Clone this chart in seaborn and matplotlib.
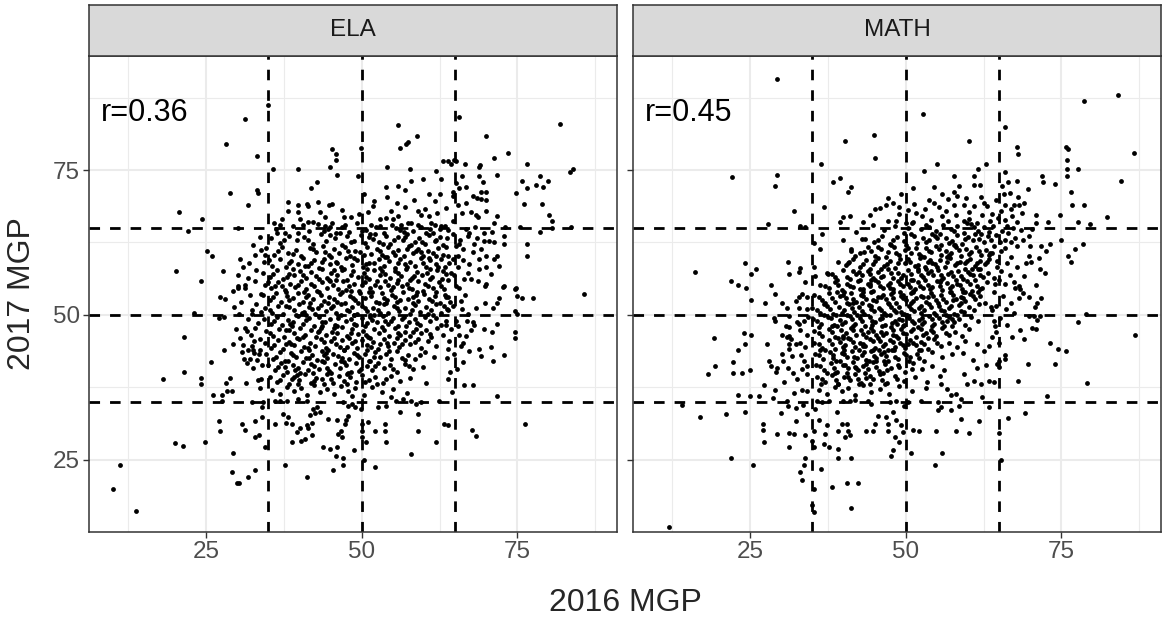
import matplotlib
matplotlib.use("Agg")
import matplotlib.pyplot as plt
import pandas as pd
import seaborn as sns

subjects = ["ELA", "MATH"]
r_labels = ["r=0.36", "r=0.45"]
cut_points = [35, 50, 65]
major_ticks = [25, 50, 75]
minor_ticks = [12.5, 37.5, 62.5, 87.5]
x_title = "2016 MGP"
y_title = "2017 MGP"

# ---------------- ELA (2016 MGP, 2017 MGP) ----------------
ela_left = [(34.9,86.3),(31.2,83.9),(28.2,79.5),(33.2,77.4),(28.9,71.1),(33.2,71.6),(33.4,71.0),(31.8,68.9),(20.7,67.8),(24.4,66.5),(22.1,64.5),(30.2,65.0),(25.2,61.1),(26.0,60.1),(20.2,57.5),(24.2,55.9),(27.8,57.5),(30.2,56.8),(31.0,58.3),(31.9,59.0),(32.8,60.4),(33.9,61.2),(34.5,60.3),(30.2,54.7),(31.2,54.7),(27.2,53.1),(28.0,52.7),(29.4,54.1),(30.2,55.0),(31.2,55.1),(33.9,53.6),(23.0,50.3),(27.0,49.5),(27.9,49.7),(30.3,50.1),(32.4,50.8),(32.4,50.1),(21.4,46.2),(31.2,47.8),(32.9,47.8),(31.6,47.2),(30.5,46.0),(32.7,45.5),(33.6,45.8),(27.9,44.0),(29.3,45.0),(30.8,43.6),(31.7,44.0),(32.6,43.9),(33.7,44.0),(32.7,43.4),(33.5,43.2),(31.1,42.4),(32.0,42.3),(33.2,42.2),(31.5,41.6),(34.0,41.4),(25.8,41.9),(21.4,40.1),(18.1,38.9),(24.2,39.1),(24.2,38.1),(28.9,39.1),(28.2,38.2),(28.4,36.9),(29.2,36.9),(27.6,36.2),(26.1,36.1),(27.5,35.1),(33.3,38.7),(33.9,39.0),(32.3,34.9),(34.2,35.0),(34.0,34.0),(27.0,31.6),(27.2,30.0),(30.8,31.1),(31.2,30.1),(32.8,31.6),(34.0,32.4),(33.5,29.2),(32.8,28.9),(34.5,27.2),(20.0,27.9),(21.3,27.4),(24.8,28.1),(29.3,26.1),(11.2,24.0),(29.1,22.9),(30.0,20.9),(30.3,21.0),(31.7,22.0),(32.8,23.2),(10.1,19.9),(13.7,16.1),
(30.6,52.3),(31.8,49.3),(32.9,55.8),(33.1,51.9),(32.2,46.6),(33.4,48.6),(30.9,44.8),(32.5,40.9),(33.6,37.3),(31.4,38.2),(29.8,47.5),(33.0,57.7),(32.1,53.4),(30.5,59.6),(33.6,63.4),(32.6,62.0),(31.7,56.4),(29.5,51.4),(33.8,50.5),(32.3,44.7)]

ela_low = [(36.0,31.2),(37.9,31.4),(38.2,32.3),(37.4,32.9),(38.8,31.2),(40.1,30.4),(41.2,31.0),(42.0,31.3),(41.7,32.7),(42.5,33.0),(43.3,33.3),(41.4,30.4),(39.6,29.8),(40.3,28.3),(38.8,28.0),(40.9,28.6),(42.0,29.2),(37.7,24.1),(41.2,22.0),(43.8,27.2),(44.9,26.9),(46.0,27.2),(45.9,25.7),(47.0,25.3),(47.0,24.0),(45.4,23.2),(48.8,26.7),(50.4,25.0),(52.1,23.8),(44.6,32.0),(46.0,31.8),(46.2,29.5),(46.7,30.0),(46.8,28.9),(47.3,31.2),(47.5,31.8),(47.8,32.6),(50.0,31.2),(50.0,30.0),(50.0,28.9),(51.0,31.5),(50.7,28.0),(52.1,30.0),(53.7,31.2),(53.7,30.0),(53.9,28.0),(56.1,33.2),(57.9,26.0),(59.0,32.9),(59.0,30.0),(61.9,28.0),(63.2,31.2),(36.1,35.2),(36.9,35.1),(38.0,35.2),(39.8,35.5),(41.2,35.2),(42.2,33.8),(42.8,34.0),(47.0,34.9),(47.8,34.3),(48.4,34.6),(48.9,34.0),(49.9,33.8),(52.6,34.0),(53.9,34.3),(54.7,35.8),(55.5,35.2),(56.6,35.5),(57.9,35.2),(58.7,34.6),(59.5,34.9),(62.4,35.2)]

ela_top = [(55.9,82.8),(58.9,80.9),(56.2,78.8),(57.1,79.5),(57.4,79.9),(45.2,78.6),(45.8,77.7),(45.8,76.8),(44.9,75.6),(46.0,74.1),(49.9,78.8),(49.4,74.0),(35.7,75.2),(39.8,75.1),(54.0,75.6),(57.8,75.2),(61.9,74.9),(63.0,76.5),(42.8,72.9),(41.8,71.9),(53.9,72.0),(55.9,72.2),(56.9,71.6),(57.9,73.2),(59.9,73.5),(62.8,73.5),(60.8,70.9),(62.6,70.8),(61.8,69.7),(38.1,69.5),(38.1,67.9),(39.8,68.9),(41.2,69.1),(41.4,68.8),(43.0,69.5),(44.7,68.9),(45.2,69.1),(46.9,68.1),(48.2,66.9),(44.1,66.9),(39.8,67.7),(40.1,66.5),(41.3,66.0),(42.1,66.0),(44.1,65.4),(44.9,65.2),(45.9,64.2),(46.5,64.1),(35.9,65.8),(36.9,65.6),(36.4,64.2),(37.7,64.2),(51.0,67.7),(51.8,68.8),(52.9,66.6),(53.9,66.8),(55.0,66.5),(55.8,67.0),(54.7,67.9),(56.3,65.6),(57.9,65.9),(59.1,67.9),(59.5,67.2),(60.8,67.0),(61.1,65.9),(62.7,65.3),(51.5,65.6),
(47.1,66.9),(49.6,67.5),(52.0,69.6),(54.1,70.3),(57.0,68.6),(58.4,69.9),(60.1,68.3),(62.1,67.6),(63.5,68.4),(43.3,67.7),(50.3,70.8),(37.2,66.6),(55.6,69.4)]

ela_right = [(65.7,84.1),(81.8,83.0),(69.9,80.9),(73.5,77.9),(71.2,77.0),(76.5,76.0),(83.4,74.7),(83.9,75.1),(69.0,75.9),(68.8,75.5),(66.6,76.1),(64.3,76.1),(64.8,76.8),(65.1,76.5),(63.8,76.5),(71.7,74.2),(68.8,74.0),(66.1,73.9),(69.4,73.0),(65.2,72.8),(65.6,71.9),(66.7,72.0),(64.7,71.2),(64.7,70.5),(75.7,73.2),(76.5,71.9),(74.8,71.1),(78.0,72.5),(79.1,72.1),(78.7,74.0),(79.9,73.1),(68.5,70.2),(69.1,70.0),(69.9,69.9),(69.1,71.3),(69.9,71.2),(66.7,69.3),(69.9,68.0),(76.0,69.1),(78.9,69.2),(67.5,67.8),(68.3,67.2),(68.7,66.9),(71.7,67.0),(71.2,65.9),(80.0,67.2),(80.6,66.2),(73.0,65.1),(75.5,65.1),(78.7,64.3),(83.6,65.1),(80.6,65.0),(76.5,62.2),(76.5,60.2),(72.8,63.6),(72.8,62.2),(71.2,62.5),(71.7,60.2),(72.0,58.4),(71.2,59.6),(69.9,60.2),(69.1,61.3),(68.8,59.6),(69.6,62.7),(69.6,64.2),(70.9,64.3),(68.0,62.2),(67.0,63.6),(67.2,64.2),(66.2,61.3),(65.6,62.2),(65.1,61.9),(65.4,60.2),(64.6,59.6),(63.8,60.2),(64.0,59.0),(67.0,57.3),(66.4,56.2),(67.5,56.2),(68.6,55.9),(69.9,58.2),(70.7,57.0),(72.8,55.0),(74.7,54.7),(69.9,55.3),(65.1,55.0),(65.6,54.7),(63.8,56.1),(64.3,57.3),(65.4,58.2),(85.7,53.6),(77.5,52.9),(75.8,52.9),(75.0,53.2),(74.6,54.5),(74.6,50.6),(74.9,50.2),(74.6,47.1),(74.6,46.0),(71.7,48.4),(70.9,47.1),(69.6,47.5),(72.8,43.1),(71.1,42.1),(69.2,42.9),(68.8,44.1),(70.8,44.4),(67.9,37.9),(71.7,35.9),(76.2,31.1),(67.7,30.2),(68.3,29.1),(63.8,31.0),(63.8,38.9),(66.2,41.9),(66.2,45.1),(69.8,55.0),(72.7,54.8),(72.0,52.9),(71.8,52.1),(71.1,51.2),(69.8,52.0),(66.6,53.4),(66.1,51.0),(67.8,48.7),(68.1,48.3),(67.5,47.4),(66.8,46.4),(65.6,46.6),(64.0,45.5),(63.8,44.1),(65.9,44.6),(65.1,49.0),(63.6,53.0),(64.2,52.2),(63.9,50.8),(64.6,51.5),(63.5,48.2),(64.4,47.6),(63.7,42.5),(64.1,40.2),
(64.6,63.9),(65.8,63.0),(66.7,64.9),(67.8,60.8),(68.5,63.2),(66.3,59.4),(67.2,58.8),(64.9,56.8),(66.0,52.4),(67.0,50.2),(65.5,48.0),(66.9,48.9),(68.4,51.2),(64.8,43.2),(65.3,40.6),(67.2,43.8),(64.5,36.7),(66.5,37.9),(68.9,58.0),(70.4,62.8),(64.7,66.2),(66.1,67.6),(68.2,65.1),(65.4,68.9),(67.9,70.6)]

ela_core = [(36.2,64.8),(38.9,65.3),(41.5,64.4),(43.0,65.7),(44.6,64.9),(46.8,65.2),(47.9,64.3),(49.2,65.8),(50.7,64.6),(52.3,65.1),(53.6,64.2),(54.8,65.5),(56.1,64.7),(57.4,65.9),(58.3,64.5),(59.6,65.2),(60.4,64.1),(61.8,65.6),(62.5,64.8),(63.4,65.3),(39.7,64.1),(45.3,65.9),(51.4,64.0),(55.5,65.0),(60.9,64.9),
(35.4,63.2),(36.9,62.4),(38.3,63.7),(39.6,62.9),(40.8,63.4),(42.1,62.2),(43.5,63.9),(44.2,62.7),(45.7,63.3),(46.9,62.1),(47.6,63.6),(48.8,62.8),(49.9,63.8),(50.6,62.4),(51.8,63.1),(52.7,62.6),(53.9,63.7),(54.5,62.3),(55.8,63.4),(56.6,62.9),(57.3,63.9),(58.5,62.5),(59.2,63.3),(60.1,62.2),(60.8,63.8),(61.7,62.7),(62.6,63.5),(63.1,62.1),(57.9,62.0),(52.2,63.9),
(34.6,61.5),(35.9,60.3),(37.2,61.8),(38.1,60.7),(39.4,61.2),(40.3,60.1),(41.7,61.6),(42.6,60.8),(43.8,61.9),(44.7,60.4),(45.5,61.3),(46.4,60.6),(47.3,61.7),(48.1,60.2),(48.9,61.1),(49.8,60.9),(50.9,61.8),(51.5,60.5),(52.4,61.4),(53.3,60.3),(54.2,61.7),(55.0,60.8),(55.9,61.2),(56.8,60.1),(57.6,61.9),(58.2,60.6),(59.1,61.4),(59.9,60.2),(60.7,61.1),(61.4,60.7),(62.3,61.6),(63.0,60.4),(44.1,60.9),(53.8,60.0),(58.7,61.0),
(34.3,59.1),(35.6,58.4),(36.8,59.7),(37.9,58.2),(38.7,59.3),(39.8,58.8),(40.6,59.9),(41.4,58.5),(42.3,59.4),(43.2,58.1),(44.0,59.6),(44.9,58.7),(45.8,59.2),(46.6,58.3),(47.5,59.8),(48.4,58.6),(49.3,59.5),(50.2,58.2),(51.1,59.0),(51.9,58.9),(52.8,59.7),(53.5,58.4),(54.4,59.3),(55.3,58.1),(56.2,59.6),(56.9,58.8),(57.8,59.2),(58.6,58.5),(59.5,59.9),(60.3,58.3),(61.0,59.4),(61.9,58.7),(62.7,59.6),(63.3,58.2),(47.1,58.0),(54.0,60.0),(41.9,59.0),(59.9,58.9),
(34.1,57.3),(35.2,56.5),(36.4,57.8),(37.3,56.2),(38.4,57.1),(39.2,56.9),(40.1,57.6),(41.0,56.3),(41.8,57.4),(42.7,56.7),(43.6,57.9),(44.4,56.4),(45.1,57.2),(46.0,56.8),(46.9,57.7),(47.7,56.1),(48.6,57.5),(49.4,56.6),(50.3,57.3),(51.2,56.2),(52.0,57.8),(52.9,56.9),(53.7,57.1),(54.6,56.4),(55.4,57.6),(56.3,56.7),(57.1,57.9),(58.0,56.3),(58.8,57.4),(59.7,56.8),(60.5,57.2),(61.3,56.5),(62.1,57.7),(62.9,56.2),(63.6,57.0),(44.8,56.0),(50.8,58.0),(55.9,56.0),(38.9,57.9),(60.9,57.9),
(34.4,55.2),(35.5,54.6),(36.6,55.7),(37.6,54.3),(38.5,55.4),(39.3,54.8),(40.2,55.9),(41.1,54.5),(41.9,55.3),(42.8,54.1),(43.7,55.6),(44.5,54.7),(45.4,55.1),(46.2,54.4),(47.0,55.8),(47.9,54.9),(48.7,55.4),(49.6,54.2),(50.5,55.7),(51.3,54.6),(52.1,55.2),(53.0,54.8),(53.8,55.9),(54.7,54.3),(55.6,55.5),(56.4,54.9),(57.2,55.3),(58.1,54.5),(59.0,55.8),(59.8,54.2),(60.6,55.0),(61.5,54.7),(62.4,55.6),(63.2,54.4),(45.9,56.0),(51.7,54.0),(57.7,56.0),(40.7,54.0),(54.2,55.1),(48.2,54.1),(36.1,54.9),(62.0,54.0),
(34.2,53.4),(35.3,52.6),(36.3,53.8),(37.1,52.3),(38.0,53.2),(38.9,52.9),(39.7,53.7),(40.5,52.2),(41.3,53.5),(42.2,52.7),(43.1,53.9),(43.9,52.4),(44.8,53.1),(45.6,52.8),(46.5,53.6),(47.3,52.1),(48.1,53.3),(49.0,52.5),(49.8,53.8),(50.6,52.9),(51.5,53.2),(52.3,52.3),(53.2,53.7),(54.0,52.6),(54.9,53.4),(55.7,52.2),(56.6,53.9),(57.4,52.8),(58.3,53.1),(59.1,52.4),(60.0,53.6),(60.8,52.7),(61.7,53.3),(62.6,52.1),(63.4,53.5),(46.9,54.0),(52.8,52.0),(58.8,54.0),(41.7,52.0),(55.3,53.0),(49.4,52.0),(37.8,54.0),
(34.5,51.1),(35.6,50.4),(36.5,51.6),(37.4,50.2),(38.3,51.3),(39.1,50.8),(40.0,51.9),(40.8,50.5),(41.6,51.4),(42.5,50.1),(43.4,51.7),(44.2,50.7),(45.0,51.2),(45.9,50.3),(46.7,51.8),(47.6,50.9),(48.4,51.3),(49.3,50.2),(50.1,51.6),(50.9,50.6),(51.8,51.1),(52.6,50.8),(53.5,51.9),(54.3,50.4),(55.2,51.5),(56.0,50.7),(56.9,51.2),(57.7,50.1),(58.6,51.7),(59.4,50.5),(60.3,51.4),(61.1,50.9),(62.0,51.8),(62.8,50.3),(63.7,51.0),(44.6,52.0),(48.8,50.0),(53.9,52.0),(39.5,50.0),(58.2,52.0),(42.0,51.0),(51.3,50.0),
(34.3,49.3),(35.4,48.5),(36.4,49.7),(37.2,48.2),(38.1,49.1),(39.0,48.8),(39.8,49.8),(40.6,48.4),(41.5,49.4),(42.3,48.1),(43.2,49.6),(44.1,48.7),(44.9,49.2),(45.7,48.3),(46.6,49.9),(47.4,48.9),(48.3,49.3),(49.1,48.2),(50.0,49.5),(50.8,48.6),(51.7,49.1),(52.5,48.8),(53.4,49.8),(54.2,48.4),(55.1,49.4),(55.9,48.1),(56.8,49.7),(57.6,48.7),(58.5,49.2),(59.3,48.3),(60.2,49.6),(61.0,48.9),(61.9,49.4),(62.7,48.2),(63.5,49.0),(46.1,48.0),(52.0,50.0),(57.1,48.0),(41.0,50.0),(54.7,49.0),(43.7,48.0),(48.7,49.9),
(34.6,47.2),(35.7,46.4),(36.7,47.6),(37.5,46.1),(38.4,47.3),(39.2,46.8),(40.1,47.8),(40.9,46.5),(41.8,47.4),(42.6,46.2),(43.5,47.7),(44.3,46.6),(45.2,47.1),(46.0,46.9),(46.9,47.9),(47.7,46.3),(48.5,47.5),(49.4,46.7),(50.2,47.2),(51.0,46.1),(51.9,47.6),(52.7,46.8),(53.6,47.3),(54.4,46.4),(55.3,47.8),(56.1,46.6),(57.0,47.0),(57.8,46.3),(58.7,47.5),(59.5,46.9),(60.4,47.4),(61.2,46.2),(62.1,47.7),(63.0,46.5),(38.8,48.0),(45.6,46.0),(50.6,48.0),(55.7,46.0),(43.0,47.0),(48.0,46.0),
(34.4,45.1),(35.5,44.3),(36.6,45.6),(37.4,44.1),(38.3,45.3),(39.1,44.8),(40.0,45.8),(40.8,44.4),(41.7,45.2),(42.5,44.7),(43.4,45.9),(44.2,44.2),(45.1,45.4),(45.9,44.9),(46.8,45.7),(47.6,44.5),(48.4,45.1),(49.3,44.3),(50.1,45.6),(50.9,44.8),(51.8,45.3),(52.6,44.1),(53.5,45.8),(54.3,44.6),(55.2,45.2),(56.0,44.4),(56.9,45.7),(57.7,44.9),(58.6,45.3),(59.6,44.2),(60.7,45.5),(61.9,44.7),(39.6,46.0),(47.2,44.0),(51.4,46.0),(44.6,44.0),(37.9,44.9),(53.0,45.0),
(34.7,43.2),(35.8,42.4),(36.8,43.6),(37.7,42.1),(38.6,43.4),(39.4,42.8),(40.3,43.8),(41.1,42.5),(42.0,43.1),(42.8,42.2),(43.7,43.7),(44.5,42.6),(45.4,43.3),(46.2,42.9),(47.1,43.9),(47.9,42.3),(48.8,43.4),(49.6,42.7),(50.5,43.2),(51.3,42.1),(52.2,43.6),(53.0,42.8),(53.9,43.3),(54.7,42.4),(55.6,43.8),(56.5,42.6),(57.5,43.1),(58.6,42.3),(60.1,43.5),(61.6,42.7),(41.5,44.0),(46.6,42.0),(50.9,44.0),(38.2,42.0),(44.0,43.0),
(35.0,41.3),(36.1,40.5),(37.1,41.7),(38.0,40.2),(38.9,41.4),(39.7,40.9),(40.6,41.8),(41.4,40.4),(42.3,41.2),(43.1,40.7),(44.0,41.9),(44.8,40.3),(45.7,41.5),(46.5,40.8),(47.4,41.3),(48.2,40.1),(49.1,41.6),(49.9,40.6),(50.8,41.1),(51.7,40.4),(52.6,41.7),(53.6,40.9),(54.6,41.3),(55.7,40.2),(56.9,41.5),(58.2,40.7),(59.8,41.0),(43.6,42.0),(47.8,40.0),(40.1,40.0),(51.2,42.0),(37.6,41.0),
(35.3,39.2),(36.4,38.4),(37.4,39.6),(38.3,38.1),(39.2,39.3),(40.0,38.7),(40.9,39.8),(41.8,38.3),(42.7,39.1),(43.6,38.9),(44.5,39.7),(45.4,38.2),(46.3,39.4),(47.2,38.6),(48.1,39.2),(49.1,38.4),(50.1,39.6),(51.1,38.8),(52.2,39.3),(53.4,38.2),(54.7,39.5),(56.2,38.6),(57.8,39.1),(60.4,38.3),(42.1,40.0),(47.7,38.0),(38.8,38.9),(45.0,40.0),
(35.6,37.1),(36.9,36.3),(38.0,37.6),(39.1,36.8),(40.2,37.4),(41.2,36.2),(42.3,37.8),(43.3,36.6),(44.4,37.2),(45.5,36.4),(46.6,37.7),(47.8,36.9),(49.0,37.3),(50.3,36.1),(51.7,37.5),(53.2,36.7),(55.0,37.2),(57.3,36.5),(43.9,38.0),(48.4,36.0),(39.8,38.0),(52.5,38.0)]

ela_dense = [(40.5,65.5),(44.0,64.5),(47.3,65.6),(50.0,64.4),(53.0,65.4),(56.8,64.3),(59.0,65.6),(61.4,64.2),(63.8,64.7),
(37.5,62.9),(41.3,63.0),(44.9,63.8),(48.3,62.5),(51.1,63.5),(53.4,62.2),(55.2,63.0),(57.0,63.4),(59.7,62.6),(62.0,62.9),(63.7,63.3),
(36.5,61.0),(39.0,60.5),(42.2,61.4),(45.0,60.0),(47.8,61.0),(50.3,60.3),(52.9,61.1),(55.4,60.4),(57.2,61.4),(59.6,60.8),(61.9,60.1),(63.5,61.8),
(35.1,59.5),(38.3,58.9),(40.9,58.4),(43.6,59.1),(46.1,59.0),(48.8,59.9),(50.7,58.7),(53.0,58.1),(55.8,59.0),(57.3,58.3),(60.8,59.9),(62.3,58.2),
(35.8,57.1),(38.0,56.5),(40.6,56.9),(43.1,56.2),(45.6,57.7),(48.2,56.9),(50.7,56.6),(53.3,57.6),(55.9,57.3),(58.4,56.7),(61.0,56.2),(63.1,57.6),
(35.0,55.7),(37.2,54.9),(39.8,55.1),(42.3,54.9),(44.9,55.8),(47.4,54.3),(50.0,55.2),(52.5,55.8),(55.1,54.8),(57.6,54.6),(60.2,55.4),(62.8,54.9),
(35.8,53.1),(38.4,52.5),(41.0,53.0),(43.5,53.4),(46.1,52.3),(48.6,52.9),(51.1,53.9),(53.6,52.9),(56.2,52.6),(58.7,53.5),(61.3,52.4),(63.9,53.0),
(35.2,50.8),(37.9,51.5),(40.4,50.3),(42.9,51.2),(45.4,51.6),(48.0,50.6),(50.5,51.2),(53.0,50.4),(55.6,51.1),(58.1,50.8),(60.7,50.2),(63.2,51.5),
(35.9,49.0),(38.5,48.4),(41.0,49.1),(43.6,48.8),(46.2,49.5),(48.7,48.4),(51.3,49.7),(53.8,48.9),(56.4,49.2),(58.9,48.6),(61.5,49.9),
(35.2,46.9),(37.9,47.3),(40.5,46.2),(43.1,47.2),(45.6,47.7),(48.2,46.8),(50.7,46.5),(53.2,47.9),(55.8,46.9),(58.3,47.1),(60.9,46.7),
(35.9,44.8),(38.7,45.0),(41.3,44.3),(43.9,45.3),(46.5,44.4),(49.0,45.5),(51.5,44.5),(54.0,45.1),(56.5,44.9),(59.1,45.8),
(36.2,42.8),(39.0,43.0),(41.6,42.6),(44.2,43.4),(46.8,42.5),(49.3,43.0),(51.9,42.8),(54.4,43.7),(57.0,42.2),(59.4,43.0),
(36.6,41.0),(39.3,40.4),(41.9,41.5),(44.5,40.8),(47.1,41.8),(49.6,40.3),(52.1,41.2),(55.1,40.7),(57.6,41.2),
(36.9,38.8),(39.6,39.6),(42.3,38.5),(45.0,39.0),(47.6,39.8),(50.6,38.4),(53.9,39.0)]

# ---------------- MATH (2016 MGP, 2017 MGP) ----------------
math_left = [(29.4,90.8),(22.1,73.8),(29.3,74.1),(29.0,72.2),(32.1,68.0),(27.9,65.7),(33.1,65.3),(33.9,65.2),(16.1,57.4),(24.2,59.0),(25.9,58.0),(25.2,57.0),(21.9,55.8),(23.1,55.2),(24.3,54.6),(28.4,55.2),(31.1,59.2),(31.2,57.1),(33.1,58.1),(32.9,57.4),(29.0,53.6),(25.1,52.5),(27.4,52.0),(30.2,52.1),(30.9,51.2),(32.3,52.4),(32.9,53.0),(33.3,53.6),(34.2,53.1),(32.9,51.1),(34.2,51.0),(28.8,49.4),(29.0,49.0),(31.2,49.8),(32.5,48.7),(32.8,48.4),(31.2,47.9),(19.2,46.0),(24.0,46.8),(25.1,46.6),(24.2,45.0),(23.0,44.0),(27.8,45.0),(30.2,46.5),(31.0,46.1),(31.3,46.4),(31.5,45.8),(31.3,45.0),(31.3,44.1),(33.1,45.1),(34.2,46.5),(22.2,41.9),(19.4,41.1),(18.3,39.8),(22.2,40.0),(23.7,40.0),(25.0,40.4),(28.0,42.1),(28.3,41.2),(29.4,40.9),(29.1,40.1),(30.3,42.0),(31.1,40.9),(31.9,40.0),(31.7,42.9),(33.2,43.1),(33.6,42.1),(33.4,40.6),(34.2,41.2),(34.2,39.8),(27.2,37.8),(30.4,38.4),(29.0,37.1),(32.1,36.5),(33.4,37.1),(34.2,36.8),(23.1,36.1),(25.0,35.9),(26.4,36.0),(28.7,35.7),(14.1,34.5),(31.0,35.1),(31.1,34.3),(32.3,33.9),(34.2,32.9),(29.9,33.0),(24.2,33.3),(21.1,32.8),(17.0,32.4),(32.3,31.6),(27.1,31.2),(27.0,30.1),(29.4,29.5),(31.2,29.6),(32.1,29.4),(33.9,29.2),(27.2,28.1),(31.3,27.2),(22.0,25.2),(25.4,24.1),(33.9,25.2),(33.6,24.0),(33.1,22.9),(33.4,21.5),(12.0,13.3),
(33.0,47.3),(33.8,44.4),(32.6,39.0),(33.6,48.9),(32.4,44.9),(33.9,55.7),(34.3,49.6),(30.2,43.3),(33.5,34.4),(30.8,48.0)]

math_low = [(35.5,33.8),(36.0,31.8),(35.2,30.0),(34.9,28.3),(35.2,27.2),(36.8,27.7),(37.6,27.2),(39.2,26.9),(37.1,29.5),(37.3,30.9),(38.9,33.2),(39.7,31.2),(39.2,30.0),(40.5,31.2),(40.8,30.0),(40.3,28.9),(41.1,29.2),(43.7,30.0),(44.8,30.0),(45.1,31.2),(45.6,32.6),(46.9,32.3),(48.0,33.2),(47.2,31.2),(48.5,31.8),(47.2,30.0),(48.2,28.9),(49.3,30.9),(49.6,29.7),(49.0,28.0),(48.0,26.6),(47.7,25.7),(50.9,26.2),(51.2,30.2),(52.2,30.0),(54.9,30.0),(55.9,26.2),(55.2,33.5),(55.7,34.1),(57.3,33.5),(58.6,34.3),(58.9,32.0),(58.1,30.0),(60.2,29.6),(61.8,31.6),(62.3,35.8),(39.2,25.2),(41.2,25.3),(36.4,23.4),(38.2,20.2),(40.5,20.9),(42.3,21.0),(41.2,16.7),(35.2,20.0),(34.9,17.1),(35.2,16.0),(54.7,24.0),(35.7,35.2),(36.5,34.9),(37.6,35.2),(40.0,35.1),(41.1,35.2),(41.9,35.3),(44.0,35.2),(44.5,34.6),(47.4,34.9),(48.5,35.2),(49.8,34.3),(50.4,34.9),(52.5,35.1),(55.2,34.9),(57.3,36.1),(58.9,35.5),(55.7,38.1),(56.7,37.2),(58.1,36.4),(59.9,38.1),(61.0,38.6),(62.1,38.1),(59.4,39.8),(61.5,40.9),(60.8,42.2),(62.6,43.8),(61.4,44.9),(62.9,41.3),(59.2,43.4)]

math_top = [(52.8,84.7),(40.3,80.1),(44.9,81.0),(45.0,77.0),(60.2,80.1),(36.4,76.1),(52.9,74.8),(55.0,76.0),(57.7,74.0),(61.0,73.9),(61.6,75.2),(62.9,76.0),(38.3,72.9),(39.5,73.6),(41.2,72.1),(40.8,71.2),(36.9,68.6),(47.1,70.1),(49.2,70.9),(51.2,71.9),(47.9,69.3),(46.9,68.9),(45.1,68.3),(45.9,68.5),(44.3,67.2),(43.2,66.1),(47.2,66.2),(41.1,67.0),(40.0,66.9),(39.5,66.1),(39.9,62.9),(54.5,72.0),(54.6,69.3),(55.9,70.8),(56.8,70.0),(57.7,69.0),(58.6,72.2),(57.8,71.2),(59.4,69.0),(59.7,70.2),(61.0,72.5),(61.9,72.5),(62.1,70.3),(61.0,68.8),(53.1,68.2),(51.4,69.2),(50.3,68.1),(51.7,67.6),(55.9,67.0),(56.8,66.2),(60.2,67.7),(59.4,66.2),(61.5,65.9),(63.1,68.8),(48.9,67.4),(50.0,65.9),(51.2,66.1),(36.5,64.0),(35.2,62.4),(36.3,61.3),(42.0,64.3),(42.9,63.1),(41.2,61.0),(41.9,60.2),(40.8,59.0),(35.2,58.2),(35.5,56.7),(37.5,57.0),(38.9,56.1),
(48.5,66.2),(52.6,67.0),(54.1,66.4),(56.4,67.9),(58.0,67.3),(60.1,66.6),(62.2,67.3),(63.5,66.2),(53.8,69.8),(58.2,70.6),(62.6,69.3),(49.0,68.7),(44.7,65.6),(55.3,68.6)]

math_right = [(84.1,87.9),(78.7,87.0),(86.6,78.0),(66.0,82.4),(67.8,78.9),(68.1,77.8),(75.7,78.9),(76.0,78.6),(75.9,76.8),(75.9,75.1),(75.9,73.9),(77.6,75.1),(84.6,73.1),(71.9,73.9),(72.1,72.9),(74.0,72.6),(76.6,71.2),(76.7,68.9),(78.7,69.0),(74.8,67.2),(77.6,66.0),(79.6,65.7),(82.4,66.9),(74.9,63.0),(76.0,60.1),(76.6,59.1),(77.2,61.3),(78.4,62.2),(72.9,66.1),(73.1,62.2),(72.6,61.1),(71.7,61.9),(70.0,61.9),(69.8,60.2),(71.4,59.9),(71.6,57.9),(72.4,57.3),(71.0,55.1),(70.3,64.9),(71.0,67.2),(69.6,71.8),(67.9,73.2),(66.5,72.9),(66.0,74.7),(65.5,72.2),(65.8,70.8),(64.5,69.9),(65.3,67.9),(66.0,69.0),(66.9,68.2),(67.4,68.9),(68.2,69.0),(69.0,69.3),(68.7,67.6),(67.9,66.0),(67.1,67.0),(66.3,65.3),(65.5,64.5),(66.9,62.5),(66.0,63.0),(67.6,63.3),(66.0,61.6),(66.9,60.0),(65.3,61.0),(64.7,59.3),(65.3,57.6),(65.0,56.1),(66.0,55.3),(67.4,55.6),(68.2,55.0),(69.0,56.7),(64.2,61.9),(63.7,63.0),(63.9,60.7),(86.9,46.6),(79.0,50.1),(77.6,48.8),(75.7,43.8),(74.4,44.1),(73.2,45.1),(74.0,41.5),(69.6,41.5),(79.1,38.2),(68.0,38.6),(72.7,35.9),(69.1,33.1),(66.4,32.2),(65.0,29.6),(65.3,24.9),(63.4,34.1),(66.1,51.0),(67.1,46.1),(69.0,45.9),(65.9,43.1),(65.9,42.4),(65.0,42.1),(65.0,41.0),(64.7,41.5),(64.2,38.4),(63.4,38.6),(65.0,45.2),(64.3,48.1),(64.2,49.0),(63.9,46.1),(63.4,44.7),(70.3,47.8),(71.0,47.5),(71.1,49.1),(69.8,49.8),(70.6,49.8),(71.6,49.8),(70.8,51.3),(71.1,52.1),(71.8,52.9),(69.8,53.0),(68.2,52.9),(68.9,53.7),(67.6,54.6),(68.3,54.4),(64.2,54.0),(63.7,51.3),(64.5,51.6),(63.9,50.8),
(64.0,65.3),(64.8,66.8),(65.9,66.3),(66.4,64.2),(67.3,65.0),(68.5,64.6),(64.5,63.8),(65.2,62.5),(67.9,61.9),(68.8,62.9),(64.6,58.3),(66.2,58.9),(67.8,58.2),(69.3,58.9),(70.2,59.2),(64.1,56.4),(66.8,56.9),(64.4,55.3),(65.6,53.2),(66.9,52.1),(67.4,50.3),(65.1,49.4),(66.3,48.3),(64.5,47.0),(68.3,47.3),(69.8,63.6),(70.9,65.8),(63.8,67.5),(68.1,70.4),(66.7,71.0)]

math_core = [(46.5,64.6),(48.2,65.4),(49.7,64.2),(51.0,65.8),(52.4,64.9),(53.7,65.1),(54.9,64.4),(56.0,65.6),(57.2,64.8),(58.3,65.3),(59.4,64.1),(60.5,65.7),(61.6,64.5),(62.6,65.2),(55.5,64.0),(50.3,65.0),(59.9,65.9),(63.3,64.3),
(43.4,63.1),(44.9,62.5),(46.2,63.7),(47.4,62.2),(48.6,63.4),(49.7,62.8),(50.8,63.9),(51.8,62.4),(52.8,63.3),(53.8,62.9),(54.7,63.6),(55.6,62.1),(56.5,63.2),(57.4,62.7),(58.3,63.8),(59.1,62.3),(60.0,63.5),(60.8,62.9),(61.7,63.1),(62.5,62.5),(63.2,63.6),(57.9,62.0),(54.2,64.0),(50.1,62.0),(61.2,64.0),
(41.2,61.3),(42.6,60.6),(43.9,61.7),(45.0,60.2),(46.1,61.4),(47.1,60.9),(48.1,61.8),(49.0,60.4),(49.9,61.2),(50.8,60.7),(51.6,61.6),(52.5,60.1),(53.3,61.5),(54.1,60.8),(54.9,61.9),(55.7,60.3),(56.5,61.1),(57.3,60.6),(58.1,61.7),(58.9,60.2),(59.7,61.3),(60.5,60.9),(61.3,61.8),(62.1,60.4),(62.9,61.2),(63.6,60.7),(47.6,62.0),(52.9,60.0),(57.7,62.0),(44.4,61.0),
(39.1,59.2),(40.4,58.6),(41.6,59.7),(42.7,58.3),(43.7,59.4),(44.7,58.8),(45.6,59.8),(46.5,58.4),(47.4,59.3),(48.2,58.1),(49.1,59.6),(49.9,58.9),(50.7,59.1),(51.5,58.5),(52.3,59.9),(53.1,58.2),(53.9,59.4),(54.7,58.7),(55.5,59.5),(56.3,58.3),(57.1,59.8),(57.9,58.6),(58.7,59.2),(59.5,58.9),(60.3,59.7),(61.1,58.4),(61.9,59.3),(62.7,58.8),(63.4,59.6),(46.9,60.0),(51.9,58.0),(56.7,60.0),(60.7,58.0),(44.2,58.0),(54.3,58.9),
(37.4,57.3),(38.7,56.5),(39.9,57.8),(41.0,56.2),(42.0,57.1),(43.0,56.8),(43.9,57.6),(44.8,56.4),(45.6,57.4),(46.4,56.7),(47.2,57.9),(48.0,56.3),(48.8,57.2),(49.6,56.9),(50.4,57.7),(51.2,56.1),(52.0,57.5),(52.8,56.6),(53.6,57.3),(54.4,56.8),(55.2,57.8),(56.0,56.4),(56.8,57.1),(57.6,56.7),(58.4,57.6),(59.2,56.2),(60.0,57.4),(60.8,56.9),(61.6,57.9),(62.4,56.5),(63.2,57.2),(46.0,58.0),(50.8,56.0),(55.6,56.0),(59.6,58.0),(41.5,57.5),(53.2,58.0),(44.4,56.0),(58.0,56.0),(62.0,58.0),
(36.3,55.2),(37.6,54.6),(38.7,55.7),(39.7,54.3),(40.6,55.4),(41.5,54.8),(42.3,55.9),(43.1,54.5),(43.9,55.3),(44.7,54.1),(45.5,55.6),(46.3,54.7),(47.1,55.1),(47.9,54.4),(48.7,55.8),(49.5,54.9),(50.3,55.4),(51.1,54.2),(51.9,55.7),(52.7,54.6),(53.5,55.2),(54.3,54.8),(55.1,55.9),(55.9,54.3),(56.7,55.5),(57.5,54.9),(58.3,55.3),(59.1,54.5),(59.9,55.8),(60.7,54.2),(61.5,55.0),(62.3,54.7),(63.1,55.6),(45.1,56.0),(49.1,54.0),(53.1,56.0),(57.1,54.0),(61.1,56.0),(40.1,54.0),(42.7,56.0),(47.5,55.5),(51.5,54.5),(55.5,55.0),(59.5,54.0),(44.3,54.9),
(35.2,53.4),(36.5,52.6),(37.6,53.8),(38.6,52.3),(39.5,53.2),(40.4,52.9),(41.2,53.7),(42.0,52.2),(42.8,53.5),(43.6,52.7),(44.4,53.9),(45.2,52.4),(46.0,53.1),(46.8,52.8),(47.6,53.6),(48.4,52.1),(49.2,53.3),(50.0,52.5),(50.8,53.8),(51.6,52.9),(52.4,53.2),(53.2,52.3),(54.0,53.7),(54.8,52.6),(55.6,53.4),(56.4,52.2),(57.2,53.9),(58.0,52.8),(58.8,53.1),(59.6,52.4),(60.4,53.6),(61.2,52.7),(62.0,53.3),(62.8,52.1),(43.2,54.0),(47.2,52.0),(51.2,54.0),(55.2,52.0),(59.2,54.0),(39.0,54.0),(45.6,53.0),(49.6,52.9),(53.6,53.0),(57.6,52.5),(61.6,54.0),(41.6,52.0),(37.1,52.0),(48.0,54.0),
(35.0,51.1),(36.3,50.4),(37.4,51.6),(38.4,50.2),(39.3,51.3),(40.1,50.8),(40.9,51.9),(41.7,50.5),(42.5,51.4),(43.3,50.1),(44.1,51.7),(44.9,50.7),(45.7,51.2),(46.5,50.3),(47.3,51.8),(48.1,50.9),(48.9,51.3),(49.7,50.2),(50.5,51.6),(51.3,50.6),(52.1,51.1),(52.9,50.8),(53.7,51.9),(54.5,50.4),(55.3,51.5),(56.1,50.7),(56.9,51.2),(57.7,50.1),(58.5,51.7),(59.3,50.5),(60.1,51.4),(60.9,50.9),(61.7,51.8),(42.9,52.0),(46.9,50.0),(50.9,52.0),(54.9,50.0),(58.9,52.0),(38.8,50.0),(44.5,51.0),(48.5,50.5),(52.5,51.5),(56.5,50.0),(40.5,52.0),(36.8,51.8),(50.0,50.0),
(35.1,49.3),(36.4,48.5),(37.5,49.7),(38.5,48.2),(39.4,49.1),(40.2,48.8),(41.0,49.8),(41.8,48.4),(42.6,49.4),(43.4,48.1),(44.2,49.6),(45.0,48.7),(45.8,49.2),(46.6,48.3),(47.4,49.9),(48.2,48.9),(49.0,49.3),(49.8,48.2),(50.6,49.5),(51.4,48.6),(52.2,49.1),(53.0,48.8),(53.8,49.8),(54.6,48.4),(55.4,49.4),(56.2,48.1),(57.0,49.7),(57.8,48.7),(58.6,49.2),(59.5,48.3),(60.5,49.6),(61.6,48.9),(42.2,50.0),(46.2,48.0),(50.2,50.0),(54.2,48.0),(58.2,50.0),(38.9,48.0),(44.6,49.0),(48.6,48.5),(52.6,49.5),(56.6,49.0),(40.6,50.0),(36.9,49.9),
(35.3,47.2),(36.6,46.4),(37.7,47.6),(38.7,46.1),(39.6,47.3),(40.4,46.8),(41.2,47.8),(42.0,46.5),(42.8,47.4),(43.6,46.2),(44.4,47.7),(45.2,46.6),(46.0,47.1),(46.8,46.9),(47.6,47.9),(48.4,46.3),(49.2,47.5),(50.0,46.7),(50.8,47.2),(51.6,46.1),(52.4,47.6),(53.2,46.8),(54.0,47.3),(54.9,46.4),(55.9,47.8),(56.9,46.6),(57.9,47.0),(59.0,46.3),(60.2,47.5),(41.6,48.0),(45.6,46.0),(49.6,48.0),(53.6,46.0),(38.2,48.0),(43.9,47.0),(47.9,46.5),(51.9,47.9),(36.1,47.9),(57.4,48.0),(39.9,46.0),
(35.2,45.1),(36.5,44.3),(37.6,45.6),(38.6,44.1),(39.5,45.3),(40.3,44.8),(41.1,45.8),(41.9,44.4),(42.7,45.2),(43.5,44.7),(44.3,45.9),(45.1,44.2),(45.9,45.4),(46.7,44.9),(47.5,45.7),(48.3,44.5),(49.1,45.1),(49.9,44.3),(50.7,45.6),(51.6,44.8),(52.5,45.3),(53.5,44.1),(54.6,45.8),(55.7,44.6),(56.9,45.2),(58.2,44.4),(59.6,45.5),(40.7,46.0),(44.7,44.0),(48.7,46.0),(52.1,44.0),(37.1,44.0),(43.1,45.0),(47.1,44.0),(39.1,46.0),(50.3,45.0),
(35.4,43.2),(36.7,42.4),(37.8,43.6),(38.8,42.1),(39.7,43.4),(40.5,42.8),(41.3,43.8),(42.1,42.5),(42.9,43.1),(43.7,42.2),(44.5,43.7),(45.3,42.6),(46.1,43.3),(46.9,42.9),(47.8,43.9),(48.7,42.3),(49.7,43.4),(50.7,42.7),(51.8,43.2),(53.0,42.1),(54.3,43.6),(55.8,42.8),(57.4,43.3),(40.1,44.0),(44.1,42.0),(48.1,44.0),(36.2,44.0),(42.5,44.0),(46.5,42.0),(38.3,43.0),(52.4,44.0),(45.7,44.0),
(35.6,41.3),(36.9,40.5),(38.0,41.7),(39.0,40.2),(39.9,41.4),(40.7,40.9),(41.5,41.8),(42.3,40.4),(43.1,41.2),(43.9,40.7),(44.8,41.9),(45.7,40.3),(46.6,41.5),(47.6,40.8),(48.7,41.3),(49.9,40.1),(51.2,41.6),(52.6,40.6),(54.2,41.1),(56.1,40.4),(39.4,42.0),(43.5,40.0),(47.1,42.0),(37.4,40.0),(41.9,41.0),(45.2,42.0),(50.5,42.0),
(35.8,39.2),(37.1,38.4),(38.2,39.6),(39.2,38.1),(40.1,39.3),(41.0,38.7),(41.9,39.8),(42.8,38.3),(43.7,39.1),(44.7,38.9),(45.8,39.7),(47.0,38.2),(48.3,39.4),(49.8,38.6),(51.5,39.2),(53.4,38.4),(55.5,39.5),(40.6,40.0),(44.2,38.0),(38.7,40.0),(46.4,40.0),(36.4,38.0),
(36.0,37.1),(37.4,36.3),(38.6,37.6),(39.7,36.8),(40.8,37.4),(41.9,36.2),(43.1,37.8),(44.4,36.6),(45.8,37.2),(47.3,36.4),(49.0,37.7),(51.0,36.9),(53.3,37.3),(42.5,38.0),(39.2,38.0),(46.6,38.0)]

math_dense = [(53.2,65.5),(57.7,64.4),(61.0,65.1),
(45.6,62.9),(48.0,63.0),(51.3,63.6),(53.3,62.5),(55.1,63.2),(57.0,62.4),(59.6,63.1),(62.1,63.9),
(43.3,60.9),(45.6,61.7),(48.5,60.7),(50.4,61.5),(52.1,60.5),(53.7,61.0),(55.3,61.4),(56.9,60.3),(58.5,61.2),(60.1,60.5),(61.7,61.1),(63.3,60.3),
(40.9,59.1),(43.2,58.7),(45.1,59.3),(47.0,58.8),(48.7,59.0),(50.3,59.6),(51.9,58.6),(53.5,59.1),(55.1,58.2),(56.7,59.1),(58.3,58.9),(59.9,59.3),(61.5,58.9),(63.0,59.2),
(38.1,57.0),(40.5,56.6),(42.5,57.4),(44.3,57.0),(46.0,56.5),(47.6,57.3),(49.2,56.4),(50.8,57.1),(52.4,56.8),(54.0,57.5),(55.6,56.9),(57.2,57.4),(58.8,56.7),(60.4,57.1),(62.0,56.8),
(37.0,55.0),(39.2,55.2),(41.1,55.0),(42.7,54.4),(44.3,55.4),(45.9,54.9),(47.5,54.7),(49.1,55.3),(50.7,54.8),(52.3,55.0),(53.9,54.5),(55.5,55.6),(57.1,54.6),(58.7,55.2),(60.3,55.3),(61.9,54.4),
(36.0,53.1),(38.1,52.9),(40.0,53.5),(41.6,52.8),(43.2,53.2),(44.8,52.6),(46.4,53.5),(48.0,52.9),(49.6,53.4),(51.2,52.4),(52.8,53.0),(54.4,53.3),(56.0,52.8),(57.6,53.4),(59.2,52.9),(60.8,53.2),
(35.7,50.9),(37.9,51.0),(39.7,50.4),(41.3,51.1),(42.9,50.7),(44.5,51.5),(46.1,50.9),(47.7,51.3),(49.3,50.5),(50.9,51.0),(52.5,50.4),(54.1,51.3),(55.7,50.9),(57.3,51.5),(58.9,50.7),
(35.8,48.9),(38.0,49.4),(39.8,48.5),(41.4,49.2),(43.0,48.9),(44.6,48.3),(46.2,49.4),(47.8,48.6),(49.4,49.1),(51.0,48.9),(52.6,48.4),(54.2,49.3),(55.8,48.8),(57.4,49.2),
(36.0,46.9),(38.2,47.0),(40.0,46.4),(41.6,47.3),(43.2,46.7),(44.8,47.2),(46.4,46.5),(48.0,47.4),(49.6,46.9),(51.2,47.5),(52.8,46.5),(54.4,47.0),(56.4,46.9),
(36.0,44.9),(38.1,45.0),(39.9,44.5),(41.5,45.3),(43.1,44.6),(44.7,45.4),(46.3,44.6),(47.9,45.3),(49.5,44.8),(51.1,45.1),(53.0,44.9),(55.1,45.2),
(36.1,43.0),(38.3,42.6),(40.1,43.2),(41.7,42.8),(43.3,43.5),(44.9,42.9),(46.5,43.6),(48.2,42.8),(50.0,43.0),(52.1,42.6),
(36.3,41.1),(38.5,40.8),(40.3,41.3),(42.0,40.8),(43.7,41.5),(45.3,41.0),(47.0,40.5),(48.9,41.0),(51.0,40.7),
(36.6,39.0),(38.8,38.7),(40.7,39.3),(42.4,38.9),(44.2,39.4),(46.2,38.8),(48.6,39.0)]

panels = {
    "ELA": ela_left + ela_low + ela_top + ela_right + ela_core + ela_dense,
    "MATH": math_left + math_low + math_top + math_right + math_core + math_dense,
}

rows = []
for subj in subjects:
    for x, y in panels[subj]:
        rows.append({"subject": subj, "mgp2016": x, "mgp2017": y})
df = pd.DataFrame(rows)

sns.set_theme(style="white")
plt.rcParams["font.family"] = ["Liberation Sans", "DejaVu Sans"]

W, H = 1163, 626
fig = plt.figure(figsize=(W / 100, H / 100), dpi=100)
fig.patch.set_facecolor("white")

panel_px = [(89, 617), (633, 1161)]
top_px, bot_px = 56, 532
strip_top_px = 5
xlim = (6.2, 91.0)
ylim = (50 - (bot_px - 315.7) / 5.81, 94.7)
border = "#333333"

for i, subj in enumerate(subjects):
    x0, x1 = panel_px[i]
    ax = fig.add_axes([x0 / W, 1 - bot_px / H, (x1 - x0) / W, (bot_px - top_px) / H])
    sub = df[df["subject"] == subj]
    sns.scatterplot(data=sub, x="mgp2016", y="mgp2017", ax=ax, s=12,
                    color="black", linewidth=0, legend=False, zorder=3)
    for c in cut_points:
        ax.axvline(c, color="black", lw=2.0, ls=(0, (3.8, 3.6)), zorder=4)
        ax.axhline(c, color="black", lw=2.0, ls=(0, (3.8, 3.6)), zorder=4)
    ax.set_xlim(*xlim)
    ax.set_ylim(*ylim)
    ax.set_xticks(major_ticks)
    ax.set_yticks(major_ticks)
    ax.set_xticks(minor_ticks, minor=True)
    ax.set_yticks(minor_ticks, minor=True)
    ax.set_axisbelow(True)
    ax.grid(which="major", color="#EBEBEB", lw=1.5, zorder=0)
    ax.grid(which="minor", color="#EBEBEB", lw=0.8, zorder=0)
    ax.tick_params(which="minor", length=0)
    ax.tick_params(which="major", length=4, width=1.0, color=border,
                   labelsize=17.5, labelcolor="#4D4D4D", pad=2.5,
                   bottom=True, left=True)
    if i > 0:
        ax.tick_params(labelleft=False)
    for sp in ax.spines.values():
        sp.set_color(border)
        sp.set_linewidth(1.1)
        sp.set_zorder(5)
    ax.set_xlabel("")
    ax.set_ylabel("")
    ax.text(8.1, 84.9, r_labels[i], fontsize=22, ha="left", va="center",
            color="black", zorder=6)

    sax = fig.add_axes([x0 / W, 1 - top_px / H, (x1 - x0) / W, (top_px - strip_top_px) / H])
    sax.set_facecolor("#D9D9D9")
    sax.set_xticks([])
    sax.set_yticks([])
    for sp in sax.spines.values():
        sp.set_color(border)
        sp.set_linewidth(1.1)
    sax.text(0.5, 0.5, subj, ha="center", va="center", fontsize=17.5,
             color="#1A1A1A", transform=sax.transAxes)

fig.text(625 / W, 1 - 603 / H, x_title, ha="center", va="center", fontsize=23)
fig.text(22 / W, 1 - 294 / H, y_title, ha="center", va="center",
         rotation=90, fontsize=23)

fig.savefig("out.png", dpi=100, facecolor="white")
